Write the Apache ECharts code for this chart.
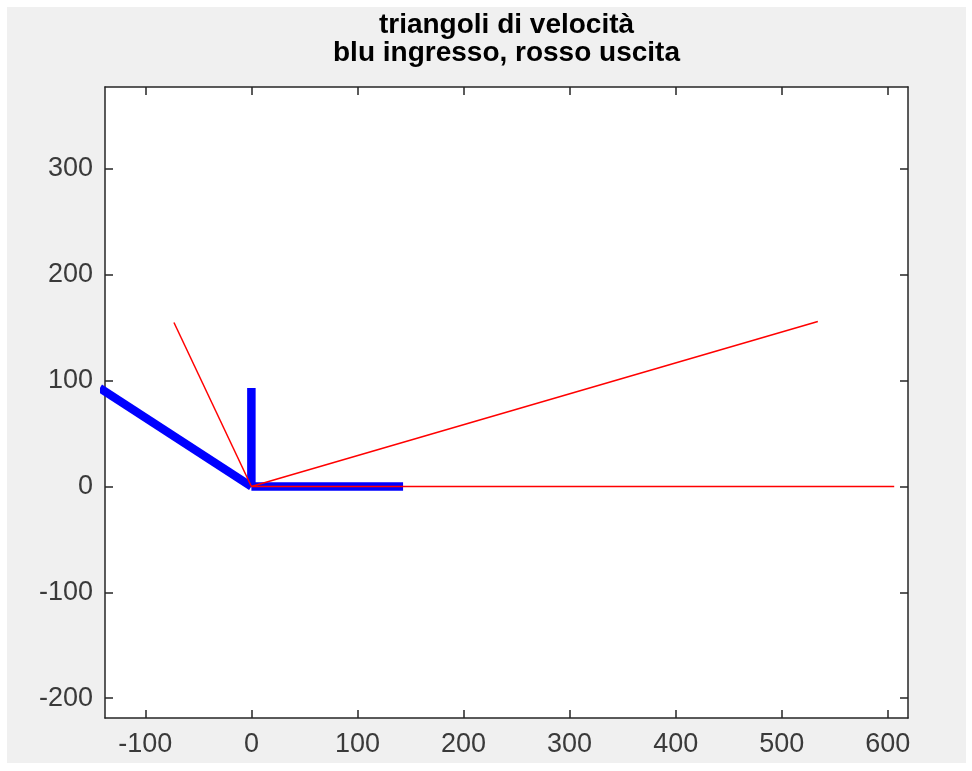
<!DOCTYPE html>
<html>
<head>
<meta charset="utf-8">
<script src="https://cdn.jsdelivr.net/npm/echarts@6/dist/echarts.min.js"></script>
<style>
  html, body { margin: 0; padding: 0; background: #ffffff; }
  #chart { width: 972px; height: 771px; }
</style>
</head>
<body>
<div id="chart"></div>
<script>
// Velocity triangles: each vector is drawn from the origin.
// Inlet (blue): relative velocity w, absolute velocity c, blade speed u
const ingressoW = [-143, 93];
const ingressoC = [0, 93];
const ingressoU = [143, 0];
// Outlet (red)
const uscitaW = [-73, 155];
const uscitaC = [534, 156];
const uscitaU = [606, 0];

const origin = [0, 0];
const xTicks = [-100, 0, 100, 200, 300, 400, 500, 600];
const yTicks = [-200, -100, 0, 100, 200, 300];
const titleLines = ['triangoli di velocità', 'blu ingresso, rosso uscita'];

const FONT = '"Liberation Sans", Arial, Helvetica, sans-serif';
const AXIS_COLOR = '#262626';
const LABEL_COLOR = '#3a3a3a';

const gridBox = { left: 105, top: 87, width: 803, height: 631 };
const xRange = [-138, 619];
const yRange = [-218.7, 377.5];

function segment(vec) {
  return [origin, vec];
}

function baseAxis(range, ticks, showLabels, position, margin) {
  return {
    type: 'value',
    position: position,
    min: range[0],
    max: range[1],
    splitLine: { show: false },
    axisLine: { show: true, onZero: false, lineStyle: { color: AXIS_COLOR, width: 1.5 } },
    axisTick: {
      show: true, inside: true, length: 8,
      customValues: ticks,
      lineStyle: { color: AXIS_COLOR, width: 1.5 }
    },
    axisLabel: {
      show: showLabels,
      customValues: ticks,
      color: LABEL_COLOR,
      fontFamily: FONT,
      fontSize: 27,
      margin: margin
    }
  };
}

function vectorSeries(vec, color, width) {
  return {
    type: 'line',
    data: segment(vec),
    symbol: 'none',
    animation: false,
    silent: true,
    clip: true,
    lineStyle: { color: color, width: width, cap: 'butt', join: 'miter' }
  };
}

const chart = echarts.init(document.getElementById('chart'), null, { renderer: 'canvas' });

chart.setOption({
  backgroundColor: '#ffffff',
  animation: false,
  graphic: [
    {
      type: 'rect', z: -10, silent: true,
      shape: { x: 7, y: 7, width: 959, height: 756 },
      style: { fill: '#f0f0f0' }
    },
    {
      type: 'rect', z: -5, silent: true,
      shape: { x: gridBox.left, y: gridBox.top, width: gridBox.width, height: gridBox.height },
      style: { fill: '#ffffff' }
    },
    {
      type: 'text', silent: true,
      x: gridBox.left + gridBox.width / 2,
      y: 11,
      style: {
        text: titleLines.join('\n'),
        textAlign: 'center',
        textVerticalAlign: 'top',
        fontFamily: FONT,
        fontWeight: 'bold',
        fontSize: 28,
        lineHeight: 28,
        fill: '#000000'
      }
    }
  ],
  grid: {
    left: gridBox.left, top: gridBox.top,
    width: gridBox.width, height: gridBox.height,
    containLabel: false
  },
  xAxis: [
    baseAxis(xRange, xTicks, true, 'bottom', 13),
    baseAxis(xRange, xTicks, false, 'top', 8)
  ],
  yAxis: [
    baseAxis(yRange, yTicks, true, 'left', 12),
    baseAxis(yRange, yTicks, false, 'right', 8)
  ],
  series: [
    vectorSeries(ingressoW, '#0000ff', 8.5),
    vectorSeries(ingressoC, '#0000ff', 8.5),
    vectorSeries(ingressoU, '#0000ff', 8.5),
    vectorSeries(uscitaW, '#ff0000', 1.5),
    vectorSeries(uscitaC, '#ff0000', 1.5),
    vectorSeries(uscitaU, '#ff0000', 1.5)
  ]
});
</script>
</body>
</html>
